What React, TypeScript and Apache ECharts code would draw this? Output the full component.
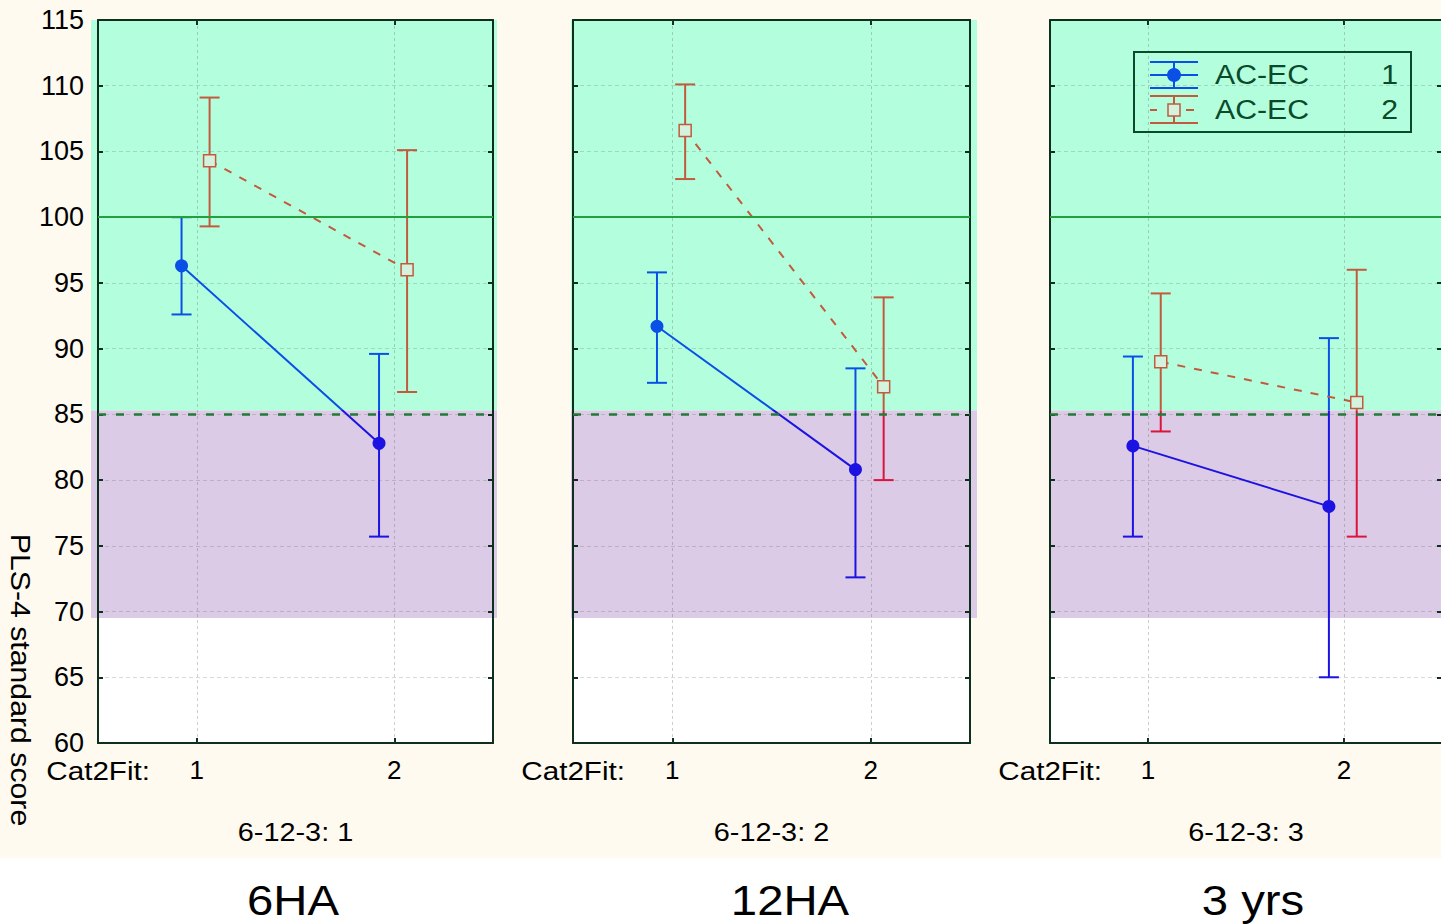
import React, { useEffect, useRef } from "react";
import * as echarts from "echarts";

// ---------- data ----------
const panelTitles = ["6HA", "12HA", "3 yrs"];
const panelSubtitles = ["6-12-3: 1", "6-12-3: 2", "6-12-3: 3"];
const categories = [1, 2];
const seriesNames = ["AC-EC", "AC-EC"];
const seriesCodes = ["1", "2"];

// AC-EC 1 (blue): per panel, per category
const blueMean = [[96.3, 82.8], [91.7, 80.8], [82.6, 78.0]];
const blueLow = [[92.6, 75.7], [87.4, 72.6], [75.7, 65.0]];
const blueHigh = [[100.0, 89.6], [95.8, 88.5], [89.4, 90.8]];
// AC-EC 2 (red)
const redMean = [[104.3, 96.0], [106.6, 87.1], [89.0, 85.9]];
const redLow = [[99.3, 86.7], [102.9, 80.0], [83.7, 75.7]];
const redHigh = [[109.1, 105.1], [110.1, 93.9], [94.2, 96.0]];

// reference bands & lines
const bandGreen = [85.3, 115];
const bandPurple = [69.5, 85.3];
const refSolid = 100;
const refDashed = 85;
const yMin = 60;
const yMax = 115;
const yStep = 5;

// ---------- layout / style ----------
const FONT = "Liberation Sans";
const gridLefts = [98, 573, 1050];
const gridWidths = [395, 397, 392];
const gridTop = 20;
const gridHeight = 723;
const bandPadL = [7, 2, 1];
const bandPadR = [4, 7, 10];
const blueOffset = -0.077;
const redOffset = 0.065;

const BLUE_G = "#0a50e6";
const BLUE_P = "#1c12e2";
const RED_G = "#c25a3e";
const RED_P = "#dc143c";
const GREEN_BAND = "#b3ffdd";
const PURPLE_BAND = "#dbcbe6";
const CREAM = "#fffaef";
const FRAME = "#0e2e1e";
const LEGEND_C = "#0a4a2a";

function makeErrRender(cG: string, cP: string) {
  const split = bandGreen[0];
  return (params: any, api: any) => {
    const x = api.value(0);
    const lo = api.value(1);
    const hi = api.value(2);
    const top = api.coord([x, hi]);
    const bot = api.coord([x, lo]);
    const mid = api.coord([x, split])[1];
    const col = (v: number) => (v > split ? cG : cP);
    const ln = (x1: number, y1: number, x2: number, y2: number, c: string) => ({
      type: "line",
      shape: { x1, y1, x2, y2 },
      style: { stroke: c, lineWidth: 2 },
    });
    const w = 10;
    const children: any[] = [];
    if (hi > split && lo < split) {
      children.push(ln(top[0], top[1], top[0], mid, cG));
      children.push(ln(top[0], mid, top[0], bot[1], cP));
    } else {
      children.push(ln(top[0], top[1], top[0], bot[1], col(hi)));
    }
    children.push(ln(top[0] - w, top[1], top[0] + w, top[1], col(hi)));
    children.push(ln(bot[0] - w, bot[1], bot[0] + w, bot[1], col(lo)));
    return { type: "group", children };
  };
}

function buildOption() {
  const grid: any[] = [];
  const xAxis: any[] = [];
  const yAxis: any[] = [];
  const series: any[] = [];
  const blueLineIdx: number[] = [];

  panelTitles.forEach((_, p) => {
    grid.push({ left: gridLefts[p], top: gridTop, width: gridWidths[p], height: gridHeight });
    const xBase = {
      type: "value",
      gridIndex: p,
      min: 0.5,
      max: 2.5,
      interval: 0.5,
      splitLine: { show: false },
      axisLine: { show: true, onZero: false, lineStyle: { color: FRAME, width: 2 } },
    };
    xAxis.push({
      ...xBase,
      position: "bottom",
      axisTick: { show: true, inside: true, length: 5, customValues: categories, lineStyle: { color: FRAME, width: 2 } },
      axisLabel: {
        show: true,
        customValues: categories,
        formatter: (v: number) => (Number.isInteger(v) ? String(v) : ""),
        color: "#000",
        fontFamily: FONT,
        fontSize: 26,
        margin: 14,
      },
    });
    xAxis.push({
      ...xBase,
      position: "top",
      axisTick: { show: true, inside: true, length: 5, customValues: categories, lineStyle: { color: FRAME, width: 2 } },
      axisLabel: { show: false },
    });
    const yBase = {
      type: "value",
      gridIndex: p,
      min: yMin,
      max: yMax,
      interval: yStep,
      axisLine: { show: true, onZero: false, lineStyle: { color: FRAME, width: 2 } },
      axisTick: { show: true, inside: true, length: 5, lineStyle: { color: FRAME, width: 2 } },
    };
    yAxis.push({
      ...yBase,
      position: "left",
      axisLabel: {
        show: p === 0,
        color: "#000",
        fontFamily: FONT,
        fontSize: 27,
        margin: 14,
        showMinLabel: true,
        showMaxLabel: true,
      },
      splitLine: { show: true, lineStyle: { color: "rgba(80,80,80,0.22)", width: 1, type: [4, 3] } },
    });
    yAxis.push({
      ...yBase,
      position: "right",
      axisLabel: { show: false },
      splitLine: { show: false },
    });

    const xi = 2 * p;
    const yi = 2 * p;
    // reference lines (carrier series, invisible line)
    series.push({
      type: "line",
      name: "ref",
      xAxisIndex: xi,
      yAxisIndex: yi,
      silent: true,
      showSymbol: false,
      symbol: "none",
      lineStyle: { opacity: 0 },
      itemStyle: { opacity: 0 },
      data: categories.map((c, k) => [c, blueMean[p][k]]),
      markLine: {
        silent: true,
        symbol: "none",
        label: { show: false },
        data: [
          ...categories.map((c) => ({
            xAxis: c,
            lineStyle: { color: "rgba(80,80,80,0.28)", width: 1, type: [3, 3] },
          })),
          { yAxis: refSolid, lineStyle: { color: "#22a03c", width: 2, type: "solid" } },
          { yAxis: refDashed, lineStyle: { color: "#237a36", width: 2.5, type: [8, 10] } },
        ],
      },
    });
    // blue error bars
    series.push({
      type: "custom",
      name: seriesNames[0] + " " + seriesCodes[0],
      xAxisIndex: xi,
      yAxisIndex: yi,
      renderItem: makeErrRender(BLUE_G, BLUE_P),
      encode: { x: 0, y: [1, 2] },
      data: categories.map((c, k) => [c + blueOffset, blueLow[p][k], blueHigh[p][k]]),
    });
    // red error bars
    series.push({
      type: "custom",
      name: seriesNames[1] + " " + seriesCodes[1],
      xAxisIndex: xi,
      yAxisIndex: yi,
      renderItem: makeErrRender(RED_G, RED_P),
      encode: { x: 0, y: [1, 2] },
      data: categories.map((c, k) => [c + redOffset, redLow[p][k], redHigh[p][k]]),
    });
    // blue mean line
    blueLineIdx.push(series.length);
    series.push({
      type: "line",
      name: seriesNames[0] + " " + seriesCodes[0],
      xAxisIndex: xi,
      yAxisIndex: yi,
      symbol: "circle",
      symbolSize: 13,
      lineStyle: { width: 2 },
      data: categories.map((c, k) => [c + blueOffset, blueMean[p][k]]),
    });
    // red mean line
    series.push({
      type: "line",
      name: seriesNames[1] + " " + seriesCodes[1],
      xAxisIndex: xi,
      yAxisIndex: yi,
      symbol: "rect",
      symbolSize: 12,
      itemStyle: { color: "#d4f3df", borderColor: RED_G, borderWidth: 1.5 },
      lineStyle: { width: 2, color: RED_G, type: [8, 9] },
      data: categories.map((c, k) => [c + redOffset, redMean[p][k]]),
    });
  });

  return {
    animation: false,
    backgroundColor: "#ffffff",
    grid,
    xAxis,
    yAxis,
    visualMap: [
      {
        type: "piecewise",
        show: false,
        dimension: 1,
        seriesIndex: blueLineIdx,
        pieces: [
          { gt: bandGreen[0], lte: 200, color: BLUE_G },
          { gte: 0, lte: bandGreen[0], color: BLUE_P },
        ],
      },
    ],
    series,
  };
}

function buildGraphic(chart: any) {
  const els: any[] = [];
  els.push({ type: "rect", z: -20, shape: { x: 0, y: 0, width: 1460, height: 858 }, style: { fill: CREAM } });
  panelTitles.forEach((title, p) => {
    const xl = chart.convertToPixel({ xAxisIndex: 2 * p }, 0.5);
    const xr = chart.convertToPixel({ xAxisIndex: 2 * p }, 2.5);
    const xc = chart.convertToPixel({ xAxisIndex: 2 * p }, 1.5);
    const yG1 = chart.convertToPixel({ yAxisIndex: 2 * p }, bandGreen[1]);
    const yG0 = chart.convertToPixel({ yAxisIndex: 2 * p }, bandGreen[0]);
    const yP0 = chart.convertToPixel({ yAxisIndex: 2 * p }, bandPurple[0]);
    const yBot = chart.convertToPixel({ yAxisIndex: 2 * p }, yMin);
    const x0 = xl - bandPadL[p];
    const w = xr + bandPadR[p] - x0;
    els.push({ type: "rect", z: -10, shape: { x: x0, y: yG1, width: w, height: yG0 - yG1 }, style: { fill: GREEN_BAND } });
    els.push({ type: "rect", z: -10, shape: { x: x0, y: yG0, width: w, height: yP0 - yG0 }, style: { fill: PURPLE_BAND } });
    els.push({ type: "rect", z: -10, shape: { x: xl, y: yP0, width: xr - xl, height: yBot - yP0 }, style: { fill: "#ffffff" } });
    els.push({
      type: "text",
      z: 10,
      x: xl + 52,
      y: 771,
      scaleX: 1.14,
      style: { text: "Cat2Fit:", fill: "#000", font: `26px "${FONT}"`, align: "right", verticalAlign: "middle" },
    });
    els.push({
      type: "text",
      z: 10,
      x: xc,
      y: 832,
      scaleX: 1.11,
      style: { text: panelSubtitles[p], fill: "#000", font: `26px "${FONT}"`, align: "center", verticalAlign: "middle" },
    });
  });
  const titleX = [293, 790, 1253];
  panelTitles.forEach((t, p) => {
    els.push({
      type: "text",
      z: 10,
      x: titleX[p],
      y: 900,
      scaleX: 1.1,
      style: { text: t, fill: "#000", font: `43px "${FONT}"`, align: "center", verticalAlign: "middle" },
    });
  });
  // y-axis title
  els.push({
    type: "text",
    z: 10,
    x: 20,
    y: 680,
    rotation: -Math.PI / 2,
    scaleX: 1.12,
    style: { text: "PLS-4 standard score", fill: "#000", font: `27px "${FONT}"`, align: "center", verticalAlign: "middle" },
  });
  // legend
  const L = (x1: number, y1: number, x2: number, y2: number, c: string) => ({
    type: "line",
    z: 20,
    shape: { x1, y1, x2, y2 },
    style: { stroke: c, lineWidth: 2 },
  });
  els.push({ type: "rect", z: 20, shape: { x: 1134, y: 52, width: 277, height: 80 }, style: { fill: "none", stroke: LEGEND_C, lineWidth: 2 } });
  els.push(L(1150, 62, 1198, 62, BLUE_G));
  els.push(L(1150, 75, 1198, 75, BLUE_G));
  els.push(L(1150, 88, 1198, 88, BLUE_G));
  els.push(L(1174, 62, 1174, 88, BLUE_G));
  els.push({ type: "circle", z: 21, shape: { cx: 1174, cy: 75, r: 7 }, style: { fill: BLUE_G } });
  els.push(L(1150, 96, 1198, 96, RED_G));
  els.push(L(1150, 123, 1198, 123, RED_G));
  els.push(L(1150, 110, 1157, 110, RED_G));
  els.push(L(1186, 110, 1194, 110, RED_G));
  els.push(L(1174, 96, 1174, 104, RED_G));
  els.push(L(1174, 116, 1174, 123, RED_G));
  els.push({ type: "rect", z: 21, shape: { x: 1168, y: 104, width: 12, height: 12 }, style: { fill: "#d4f3df", stroke: RED_G, lineWidth: 1.5 } });
  [75, 110].forEach((yy, i) => {
    els.push({
      type: "text",
      z: 21,
      x: 1215,
      y: yy,
      scaleX: 1.12,
      style: { text: seriesNames[i], fill: LEGEND_C, font: `27px "${FONT}"`, align: "left", verticalAlign: "middle" },
    });
    els.push({
      type: "text",
      z: 21,
      x: 1398,
      y: yy,
      scaleX: 1.12,
      style: { text: seriesCodes[i], fill: LEGEND_C, font: `27px "${FONT}"`, align: "right", verticalAlign: "middle" },
    });
  });
  return els;
}

export default function App() {
  const ref = useRef<HTMLDivElement>(null);
  useEffect(() => {
    if (!ref.current) return;
    const chart = echarts.init(ref.current, null, { renderer: "svg" });
    chart.setOption(buildOption() as any);
    chart.setOption({ graphic: buildGraphic(chart) } as any);
    return () => chart.dispose();
  }, []);
  return (
    <div style={{ position: "fixed", left: 0, top: 0, width: 1441, height: 924, overflow: "hidden", background: "#fff" }}>
      <div ref={ref} style={{ width: 1450, height: 924 }} />
    </div>
  );
}
